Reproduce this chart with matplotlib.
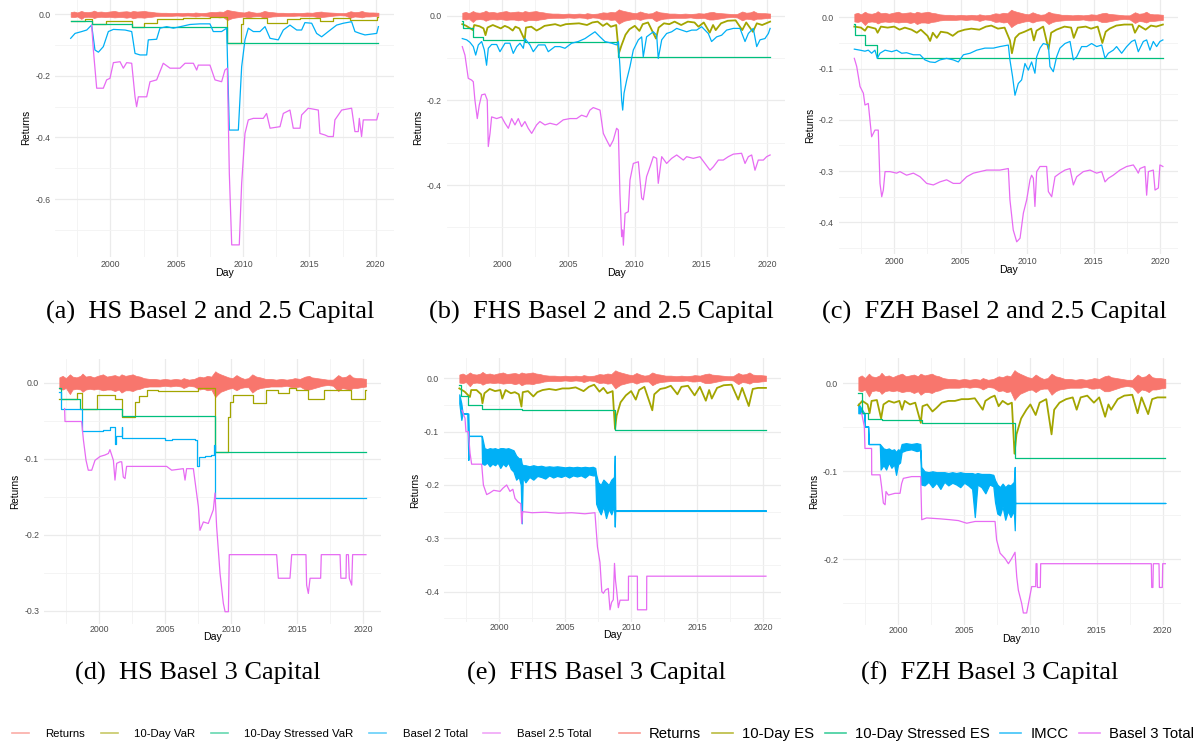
import matplotlib
matplotlib.use('Agg')
import matplotlib.pyplot as plt
from matplotlib.lines import Line2D
from matplotlib import font_manager
import numpy as np

W, H = 1197, 744
RET_C, VAR_C, SVAR_C, B2_C, B25_C = '#F8766D', '#A3A500', '#00BF7D', '#00B0F6', '#E76BF3'

# daily returns, read as an upper/lower envelope of the noisy band
ret_years = [1997.0, 1997.25, 1997.5, 1997.8, 1998.0, 1998.3, 1998.6, 1998.75, 1999.0, 1999.3, 1999.6, 1999.9,
             2000.3, 2000.6, 2000.9, 2001.2, 2001.5, 2001.7, 2002.0, 2002.3, 2002.55, 2002.8, 2003.1, 2003.4,
             2003.8, 2004.2, 2004.6, 2005.0, 2005.4, 2005.8, 2006.2, 2006.4, 2006.8, 2007.2, 2007.6, 2007.9,
             2008.2, 2008.5, 2008.8, 2008.95, 2009.2, 2009.5, 2009.8, 2010.1, 2010.4, 2010.7, 2011.0, 2011.3,
             2011.6, 2011.9, 2012.2, 2012.6, 2013.0, 2013.4, 2013.8, 2014.2, 2014.6, 2014.8, 2015.2, 2015.6,
             2015.9, 2016.1, 2016.5, 2016.9, 2017.3, 2017.7, 2018.1, 2018.4, 2018.7, 2018.95, 2019.2, 2019.5,
             2019.8, 2020.2]
ret_hi = [0.007, 0.009, 0.006, 0.011, 0.008, 0.007, 0.009, 0.012, 0.008, 0.009, 0.007, 0.009, 0.011, 0.008,
          0.009, 0.010, 0.008, 0.011, 0.009, 0.010, 0.011, 0.009, 0.008, 0.006, 0.005, 0.005, 0.004, 0.005,
          0.004, 0.005, 0.004, 0.006, 0.004, 0.005, 0.008, 0.007, 0.009, 0.008, 0.015, 0.013, 0.011, 0.009,
          0.007, 0.006, 0.010, 0.007, 0.005, 0.006, 0.011, 0.008, 0.007, 0.005, 0.005, 0.004, 0.005, 0.004,
          0.005, 0.006, 0.005, 0.008, 0.009, 0.007, 0.006, 0.005, 0.004, 0.004, 0.010, 0.007, 0.008, 0.011,
          0.007, 0.006, 0.006, 0.005]
ret_lo = [-0.008, -0.009, -0.007, -0.015, -0.009, -0.008, -0.009, -0.012, -0.009, -0.008, -0.009, -0.008,
          -0.010, -0.009, -0.009, -0.011, -0.009, -0.013, -0.010, -0.010, -0.011, -0.009, -0.008, -0.006,
          -0.005, -0.005, -0.005, -0.004, -0.005, -0.004, -0.005, -0.007, -0.004, -0.005, -0.009, -0.008,
          -0.010, -0.009, -0.019, -0.016, -0.012, -0.010, -0.008, -0.007, -0.010, -0.007, -0.006, -0.006,
          -0.013, -0.009, -0.007, -0.006, -0.005, -0.005, -0.005, -0.004, -0.006, -0.006, -0.005, -0.009,
          -0.009, -0.008, -0.006, -0.004, -0.003, -0.004, -0.011, -0.007, -0.008, -0.010, -0.007, -0.007,
          -0.006, -0.005]

# (a) HS Basel 2 and 2.5
a_var = [(1997.00, -0.021), (1998.08, -0.015), (1998.58, -0.0325), (1999.66, -0.021), (2001.60, -0.040),
         (2002.53, -0.027), (2003.48, -0.015), (2005.49, -0.011), (2007.50, -0.008), (2008.81, -0.094),
         (2009.81, -0.030), (2010.02, -0.013), (2011.77, -0.027), (2013.28, -0.016), (2014.29, -0.013),
         (2015.79, -0.021), (2016.80, -0.013), (2018.06, -0.020), (2020.07, -0.008), (2020.20, -0.008)]
a_svar = [(1997.00, -0.021), (1998.58, -0.0325), (2001.60, -0.042), (2008.81, -0.094), (2020.20, -0.094)]
a_b2 = [(1997.00, -0.078), (1997.33, -0.062), (1997.83, -0.056), (1998.21, -0.051), (1998.46, -0.040),
        (1998.58, -0.035), (1998.83, -0.116), (1999.09, -0.123), (1999.46, -0.105), (1999.84, -0.056),
        (2000.22, -0.049), (2001.10, -0.051), (2001.60, -0.056), (2001.85, -0.127), (2002.23, -0.132),
        (2002.73, -0.132), (2002.85, -0.083), (2003.48, -0.081), (2003.73, -0.045), (2004.24, -0.040),
        (2004.74, -0.045), (2005.49, -0.038), (2005.99, -0.033), (2006.75, -0.031), (2007.50, -0.031),
        (2007.75, -0.056), (2008.38, -0.056), (2008.76, -0.045), (2008.96, -0.376), (2009.64, -0.376),
        (2009.89, -0.170), (2010.14, -0.083), (2010.39, -0.045), (2010.77, -0.056), (2011.27, -0.056),
        (2011.65, -0.040), (2012.03, -0.078), (2012.65, -0.083), (2013.03, -0.051), (2013.53, -0.035),
        (2014.04, -0.051), (2014.41, -0.051), (2014.66, -0.027), (2015.17, -0.029), (2015.54, -0.062),
        (2015.92, -0.073), (2016.42, -0.056), (2017.05, -0.035), (2017.55, -0.029), (2018.18, -0.024),
        (2018.43, -0.056), (2018.81, -0.062), (2019.19, -0.067), (2020.07, -0.062), (2020.20, -0.040)]
a_b25 = [(1998.58, -0.035), (1998.71, -0.116), (1998.96, -0.240), (1999.46, -0.240), (1999.71, -0.213),
         (1999.96, -0.208), (2000.22, -0.157), (2000.72, -0.154), (2000.97, -0.175), (2001.22, -0.157),
         (2001.60, -0.159), (2001.85, -0.268), (2001.97, -0.300), (2002.10, -0.268), (2002.73, -0.268),
         (2002.98, -0.219), (2003.48, -0.213), (2003.98, -0.159), (2004.49, -0.175), (2005.24, -0.175),
         (2005.62, -0.159), (2006.25, -0.159), (2006.50, -0.181), (2006.62, -0.165), (2007.50, -0.165),
         (2007.88, -0.213), (2008.38, -0.219), (2008.63, -0.181), (2008.81, -0.175), (2008.96, -0.517),
         (2009.14, -0.749), (2009.71, -0.749), (2009.89, -0.549), (2010.14, -0.387), (2010.39, -0.343),
         (2010.77, -0.338), (2011.52, -0.338), (2011.77, -0.322), (2012.03, -0.370), (2012.78, -0.365),
         (2013.03, -0.322), (2013.53, -0.311), (2013.78, -0.370), (2014.29, -0.370), (2014.41, -0.327),
         (2014.91, -0.305), (2015.67, -0.311), (2015.79, -0.387), (2016.17, -0.392), (2016.42, -0.397),
         (2016.80, -0.397), (2016.92, -0.343), (2017.43, -0.311), (2018.18, -0.305), (2018.43, -0.381),
         (2018.68, -0.381), (2018.76, -0.338), (2018.93, -0.397), (2019.06, -0.343), (2020.07, -0.343),
         (2020.20, -0.322)]

# (b) FHS Basel 2 and 2.5
b_var = [(1997.0, -0.020), (1997.3, -0.024), (1997.5, -0.028), (1997.8, -0.034), (1997.9, -0.022),
         (1998.3, -0.025), (1998.6, -0.030), (1998.75, -0.046), (1998.9, -0.028), (1999.3, -0.022),
         (1999.6, -0.026), (1999.9, -0.030), (2000.2, -0.024), (2000.5, -0.028), (2000.8, -0.035),
         (2001.0, -0.026), (2001.3, -0.030), (2001.7, -0.057), (2001.8, -0.028), (2002.2, -0.026),
         (2002.6, -0.035), (2002.9, -0.030), (2003.2, -0.024), (2003.6, -0.022), (2004.0, -0.020),
         (2004.4, -0.024), (2004.8, -0.020), (2005.3, -0.019), (2005.8, -0.018), (2006.4, -0.022),
         (2006.8, -0.016), (2007.2, -0.014), (2007.6, -0.024), (2007.9, -0.018), (2008.2, -0.026),
         (2008.6, -0.022), (2008.8, -0.089), (2009.0, -0.070), (2009.3, -0.045), (2009.6, -0.032),
         (2010.0, -0.024), (2010.35, -0.036), (2010.6, -0.020), (2011.0, -0.016), (2011.6, -0.054),
         (2011.8, -0.028), (2012.2, -0.018), (2012.6, -0.020), (2013.0, -0.014), (2013.5, -0.022),
         (2014.0, -0.014), (2014.5, -0.016), (2014.8, -0.026), (2015.2, -0.016), (2015.65, -0.040),
         (2015.9, -0.022), (2016.1, -0.034), (2016.5, -0.018), (2017.0, -0.012), (2017.6, -0.011),
         (2018.1, -0.034), (2018.4, -0.016), (2018.9, -0.038), (2019.2, -0.018), (2019.6, -0.022),
         (2020.2, -0.014)]
b_svar = [(1997.0, -0.012), (1997.05, -0.030), (1997.83, -0.051), (1998.58, -0.057), (2001.72, -0.063),
          (2008.76, -0.098), (2020.2, -0.098)]
b_b2 = [(1997.0, -0.054), (1997.33, -0.057), (1997.58, -0.063), (1997.83, -0.073), (1998.01, -0.093),
        (1998.21, -0.069), (1998.46, -0.061), (1998.66, -0.081), (1998.83, -0.117), (1998.96, -0.077),
        (1999.21, -0.068), (1999.59, -0.068), (1999.84, -0.085), (2000.22, -0.065), (2000.59, -0.065),
        (2000.84, -0.089), (2001.10, -0.073), (2001.35, -0.065), (2001.60, -0.077), (2001.72, -0.054),
        (2002.10, -0.069), (2002.35, -0.085), (2002.73, -0.069), (2003.23, -0.069), (2003.48, -0.085),
        (2003.98, -0.073), (2004.36, -0.073), (2004.74, -0.077), (2005.24, -0.065), (2005.74, -0.061),
        (2006.25, -0.054), (2006.62, -0.046), (2007.00, -0.038), (2007.38, -0.050), (2007.75, -0.061),
        (2008.26, -0.065), (2008.63, -0.069), (2008.76, -0.061), (2008.88, -0.120), (2009.01, -0.199),
        (2009.09, -0.223), (2009.19, -0.183), (2009.39, -0.152), (2009.64, -0.120), (2009.89, -0.081),
        (2010.27, -0.057), (2010.52, -0.050), (2010.64, -0.097), (2010.89, -0.050), (2011.40, -0.038),
        (2011.65, -0.046), (2011.77, -0.101), (2012.03, -0.057), (2012.40, -0.042), (2012.78, -0.038),
        (2013.16, -0.030), (2013.53, -0.034), (2013.91, -0.038), (2014.29, -0.034), (2014.66, -0.034),
        (2015.04, -0.026), (2015.54, -0.042), (2015.79, -0.061), (2016.17, -0.050), (2016.55, -0.046),
        (2016.92, -0.034), (2017.43, -0.030), (2017.93, -0.030), (2018.31, -0.061), (2018.56, -0.042),
        (2018.93, -0.030), (2019.19, -0.073), (2019.44, -0.057), (2019.81, -0.054), (2020.07, -0.042),
        (2020.20, -0.030)]
b_b25 = [(1997.0, -0.073), (1997.20, -0.093), (1997.45, -0.148), (1997.70, -0.152), (1997.83, -0.156),
         (1997.95, -0.199), (1998.13, -0.243), (1998.28, -0.211), (1998.46, -0.187), (1998.71, -0.185),
         (1998.88, -0.199), (1998.96, -0.309), (1999.09, -0.278), (1999.21, -0.239), (1999.59, -0.243),
         (1999.96, -0.239), (2000.22, -0.254), (2000.47, -0.266), (2000.72, -0.243), (2000.97, -0.258),
         (2001.22, -0.243), (2001.47, -0.262), (2001.72, -0.250), (2001.97, -0.266), (2002.23, -0.278),
         (2002.60, -0.258), (2002.85, -0.250), (2003.23, -0.258), (2003.61, -0.254), (2004.11, -0.258),
         (2004.61, -0.246), (2005.12, -0.243), (2005.62, -0.243), (2005.99, -0.235), (2006.37, -0.239),
         (2006.62, -0.223), (2006.87, -0.217), (2007.38, -0.223), (2007.63, -0.278), (2007.88, -0.294),
         (2008.13, -0.309), (2008.38, -0.294), (2008.63, -0.266), (2008.76, -0.270), (2008.88, -0.420),
         (2009.01, -0.522), (2009.09, -0.506), (2009.14, -0.542), (2009.27, -0.467), (2009.51, -0.463),
         (2009.64, -0.388), (2009.89, -0.349), (2010.27, -0.345), (2010.52, -0.431), (2010.64, -0.435),
         (2010.89, -0.380), (2011.15, -0.357), (2011.40, -0.333), (2011.65, -0.337), (2011.77, -0.396),
         (2012.03, -0.333), (2012.40, -0.349), (2012.78, -0.337), (2013.16, -0.329), (2013.66, -0.341),
         (2013.91, -0.333), (2014.41, -0.337), (2014.91, -0.333), (2015.29, -0.349), (2015.67, -0.365),
         (2015.92, -0.357), (2016.30, -0.341), (2016.67, -0.341), (2017.05, -0.333), (2017.43, -0.327),
         (2018.05, -0.325), (2018.31, -0.349), (2018.56, -0.333), (2018.81, -0.329), (2019.06, -0.365),
         (2019.31, -0.341), (2019.69, -0.341), (2019.94, -0.333), (2020.20, -0.329)]

# (c) FZH Basel 2 and 2.5
c_var = [(1997.0, -0.018), (1997.5, -0.020), (1997.8, -0.026), (1998.0, -0.018), (1998.6, -0.022),
         (1998.75, -0.030), (1999.0, -0.018), (1999.5, -0.020), (2000.0, -0.018), (2000.4, -0.024),
         (2000.8, -0.020), (2001.3, -0.024), (2001.7, -0.030), (2002.0, -0.024), (2002.5, -0.036),
         (2002.7, -0.046), (2002.9, -0.030), (2003.2, -0.040), (2003.5, -0.028), (2004.0, -0.030),
         (2004.4, -0.036), (2004.8, -0.028), (2005.3, -0.024), (2005.8, -0.022), (2006.4, -0.024),
         (2006.9, -0.018), (2007.3, -0.016), (2007.8, -0.022), (2008.3, -0.020), (2008.7, -0.045),
         (2008.85, -0.070), (2009.1, -0.040), (2009.4, -0.032), (2009.8, -0.028), (2010.3, -0.022),
         (2010.5, -0.045), (2010.7, -0.026), (2011.2, -0.018), (2011.6, -0.062), (2011.8, -0.030),
         (2012.2, -0.024), (2012.8, -0.018), (2013.3, -0.020), (2013.5, -0.040), (2013.8, -0.020),
         (2014.4, -0.018), (2014.8, -0.022), (2015.3, -0.018), (2015.65, -0.050), (2015.9, -0.028),
         (2016.2, -0.022), (2016.7, -0.016), (2017.3, -0.014), (2017.9, -0.014), (2018.1, -0.030),
         (2018.4, -0.016), (2018.9, -0.024), (2019.3, -0.016), (2019.7, -0.018), (2020.2, -0.014)]
c_svar = [(1997.0, -0.012), (1997.05, -0.034), (1997.8, -0.053), (1998.68, -0.080), (2020.2, -0.080)]
c_b2 = [(1997.0, -0.062), (1997.43, -0.064), (1997.80, -0.066), (1998.05, -0.064), (1998.30, -0.070),
        (1998.55, -0.064), (1998.73, -0.080), (1998.93, -0.070), (1999.31, -0.064), (1999.81, -0.067),
        (2000.18, -0.064), (2000.56, -0.070), (2000.93, -0.069), (2001.44, -0.073), (2001.94, -0.073),
        (2002.31, -0.083), (2002.69, -0.087), (2003.07, -0.088), (2003.44, -0.083), (2003.94, -0.080),
        (2004.44, -0.083), (2004.82, -0.087), (2005.20, -0.073), (2005.70, -0.070), (2006.20, -0.064),
        (2006.82, -0.060), (2007.45, -0.060), (2007.95, -0.057), (2008.58, -0.054), (2008.70, -0.083),
        (2008.90, -0.116), (2009.08, -0.152), (2009.33, -0.129), (2009.58, -0.122), (2009.83, -0.090),
        (2010.08, -0.103), (2010.33, -0.087), (2010.58, -0.109), (2010.71, -0.077), (2010.96, -0.060),
        (2011.21, -0.051), (2011.59, -0.054), (2011.71, -0.096), (2011.96, -0.106), (2012.21, -0.077),
        (2012.46, -0.060), (2012.84, -0.051), (2013.22, -0.047), (2013.47, -0.083), (2013.72, -0.077),
        (2014.09, -0.057), (2014.47, -0.057), (2014.84, -0.051), (2015.22, -0.057), (2015.60, -0.054),
        (2015.85, -0.080), (2016.10, -0.070), (2016.47, -0.064), (2016.72, -0.057), (2017.10, -0.070),
        (2017.48, -0.057), (2017.85, -0.047), (2018.10, -0.044), (2018.35, -0.067), (2018.73, -0.047),
        (2018.98, -0.044), (2019.23, -0.064), (2019.48, -0.047), (2019.73, -0.057), (2019.98, -0.047),
        (2020.20, -0.044)]
c_b25 = [(1997.0, -0.080), (1997.18, -0.096), (1997.43, -0.135), (1997.68, -0.148), (1997.80, -0.171),
         (1998.05, -0.168), (1998.30, -0.233), (1998.55, -0.220), (1998.80, -0.220), (1998.93, -0.324),
         (1999.06, -0.350), (1999.18, -0.337), (1999.31, -0.301), (1999.68, -0.301), (2000.18, -0.304),
         (2000.43, -0.301), (2000.93, -0.308), (2001.44, -0.304), (2001.94, -0.311), (2002.44, -0.324),
         (2002.94, -0.327), (2003.44, -0.321), (2003.94, -0.317), (2004.44, -0.324), (2004.94, -0.324),
         (2005.45, -0.311), (2005.95, -0.304), (2006.45, -0.301), (2006.95, -0.298), (2007.45, -0.298),
         (2007.95, -0.298), (2008.58, -0.295), (2008.70, -0.356), (2008.95, -0.415), (2009.21, -0.438),
         (2009.46, -0.431), (2009.71, -0.382), (2009.96, -0.356), (2010.21, -0.317), (2010.33, -0.308),
         (2010.46, -0.314), (2010.58, -0.369), (2010.71, -0.301), (2010.96, -0.291), (2011.21, -0.291),
         (2011.46, -0.291), (2011.59, -0.340), (2011.84, -0.350), (2012.09, -0.311), (2012.46, -0.304),
         (2012.84, -0.298), (2013.22, -0.295), (2013.47, -0.327), (2013.72, -0.311), (2014.22, -0.301),
         (2014.72, -0.298), (2015.22, -0.304), (2015.60, -0.301), (2015.85, -0.321), (2016.10, -0.314),
         (2016.47, -0.308), (2016.97, -0.298), (2017.48, -0.291), (2017.98, -0.288), (2018.23, -0.298),
         (2018.35, -0.304), (2018.48, -0.295), (2018.85, -0.291), (2018.98, -0.347), (2019.11, -0.301),
         (2019.48, -0.298), (2019.61, -0.337), (2019.86, -0.333), (2019.98, -0.288), (2020.20, -0.291)]

# (d) HS Basel 3
d_es = [(1997.00, -0.021), (1998.31, -0.014), (1998.69, -0.035), (1999.82, -0.016), (2001.21, -0.021),
        (2001.72, -0.045), (2002.73, -0.025), (2003.00, -0.018), (2003.61, -0.010), (2004.49, -0.011),
        (2006.26, -0.011), (2007.52, -0.007), (2008.78, -0.091), (2009.79, -0.045), (2009.90, -0.025),
        (2010.16, -0.016), (2011.68, -0.027), (2012.66, -0.010), (2013.55, -0.013), (2014.40, -0.007),
        (2014.90, -0.010), (2015.80, -0.021), (2017.00, -0.010), (2019.10, -0.022), (2020.10, -0.010),
        (2020.20, -0.010)]
d_ses = [(1997.00, -0.007), (1997.15, -0.021), (1998.60, -0.035), (2001.72, -0.044), (2008.78, -0.091),
         (2020.20, -0.091)]
d_imcc = [(1997.00, -0.012), (1997.10, -0.034), (1998.69, -0.064), (2000.30, -0.062), (2000.83, -0.058),
          (2001.20, -0.081), (2001.30, -0.070), (2001.72, -0.058), (2001.76, -0.073), (2005.00, -0.075),
          (2005.50, -0.074), (2007.30, -0.075), (2007.45, -0.110), (2007.60, -0.098), (2008.00, -0.097),
          (2008.50, -0.095), (2008.70, -0.082), (2008.78, -0.151), (2020.20, -0.151)]
d_b3 = [(1997.40, -0.034), (1997.43, -0.051), (1998.69, -0.051), (1998.82, -0.075), (1999.02, -0.102),
        (1999.19, -0.115), (1999.45, -0.115), (1999.70, -0.102), (2000.08, -0.097), (2000.46, -0.095),
        (2000.71, -0.093), (2000.83, -0.088), (2001.09, -0.102), (2001.21, -0.128), (2001.34, -0.106),
        (2001.59, -0.104), (2001.72, -0.104), (2001.84, -0.124), (2001.97, -0.126), (2002.09, -0.110),
        (2005.12, -0.110), (2005.50, -0.115), (2006.38, -0.113), (2006.51, -0.128), (2006.63, -0.113),
        (2007.14, -0.113), (2007.52, -0.163), (2007.64, -0.194), (2007.90, -0.183), (2008.27, -0.185),
        (2008.65, -0.167), (2008.78, -0.145), (2008.90, -0.189), (2009.16, -0.251), (2009.41, -0.290),
        (2009.54, -0.301), (2009.79, -0.301), (2009.86, -0.226), (2013.44, -0.226), (2013.57, -0.257),
        (2014.45, -0.257), (2014.58, -0.226), (2015.66, -0.226), (2015.71, -0.266), (2015.84, -0.277),
        (2015.97, -0.257), (2016.77, -0.257), (2016.82, -0.226), (2018.24, -0.226), (2018.30, -0.257),
        (2018.69, -0.257), (2018.72, -0.226), (2018.87, -0.226), (2018.94, -0.257), (2019.12, -0.266),
        (2019.19, -0.226), (2020.20, -0.226)]

# (e) FHS Basel 3
e_es = [(1997.0, -0.019), (1997.4, -0.025), (1997.8, -0.035), (1997.9, -0.022), (1998.3, -0.022),
        (1998.65, -0.030), (1998.75, -0.047), (1998.9, -0.028), (1999.3, -0.020), (1999.7, -0.024),
        (2000.1, -0.022), (2000.25, -0.038), (2000.5, -0.022), (2000.9, -0.028), (2001.2, -0.026),
        (2001.5, -0.030), (2001.7, -0.053), (2001.8, -0.026), (2002.2, -0.024), (2002.6, -0.034),
        (2002.9, -0.026), (2003.3, -0.022), (2003.8, -0.020), (2004.3, -0.022), (2004.8, -0.019),
        (2005.3, -0.019), (2005.8, -0.017), (2006.4, -0.024), (2006.8, -0.016), (2007.2, -0.012),
        (2007.6, -0.025), (2007.9, -0.018), (2008.2, -0.028), (2008.6, -0.024), (2008.78, -0.095),
        (2008.9, -0.070), (2009.2, -0.045), (2009.6, -0.032), (2010.0, -0.024), (2010.35, -0.040),
        (2010.6, -0.022), (2011.0, -0.016), (2011.6, -0.060), (2011.75, -0.030), (2012.2, -0.020),
        (2012.6, -0.018), (2013.0, -0.014), (2013.5, -0.030), (2013.8, -0.016), (2014.3, -0.014),
        (2014.8, -0.032), (2015.2, -0.016), (2015.65, -0.042), (2015.9, -0.022), (2016.1, -0.038),
        (2016.5, -0.018), (2017.0, -0.013), (2017.6, -0.012), (2018.1, -0.040), (2018.4, -0.018),
        (2018.9, -0.052), (2019.2, -0.020), (2019.6, -0.018), (2020.2, -0.018)]
e_ses = [(1997.0, -0.012), (1997.15, -0.034), (1997.68, -0.050), (1998.69, -0.058), (2001.72, -0.059),
         (2008.78, -0.096), (2020.2, -0.096)]
# IMCC is very noisy: (year, upper edge, lower edge)
e_imcc = [(1997.00, -0.030, -0.047), (1997.15, -0.047, -0.078), (1997.25, -0.066, -0.066),
          (1997.60, -0.066, -0.066), (1997.68, -0.066, -0.153), (1997.72, -0.108, -0.108),
          (1998.68, -0.108, -0.108), (1998.72, -0.110, -0.160), (1998.90, -0.131, -0.162),
          (1999.10, -0.133, -0.158), (1999.30, -0.131, -0.165), (1999.50, -0.132, -0.160),
          (1999.70, -0.131, -0.163), (1999.90, -0.133, -0.158), (2000.10, -0.131, -0.168),
          (2000.30, -0.131, -0.160), (2000.50, -0.132, -0.165), (2000.70, -0.131, -0.158),
          (2000.90, -0.133, -0.170), (2001.10, -0.135, -0.175), (2001.30, -0.145, -0.190),
          (2001.50, -0.150, -0.185), (2001.65, -0.150, -0.200), (2001.72, -0.160, -0.272),
          (2001.80, -0.163, -0.185), (2002.00, -0.163, -0.195), (2002.30, -0.165, -0.185),
          (2002.60, -0.163, -0.190), (2002.90, -0.165, -0.183), (2003.20, -0.164, -0.185),
          (2003.50, -0.166, -0.188), (2003.80, -0.165, -0.182), (2004.10, -0.166, -0.186),
          (2004.40, -0.165, -0.183), (2004.70, -0.166, -0.185), (2005.00, -0.167, -0.182),
          (2005.30, -0.166, -0.186), (2005.60, -0.167, -0.182), (2005.90, -0.166, -0.184),
          (2006.20, -0.167, -0.182), (2006.50, -0.166, -0.186), (2006.80, -0.167, -0.180),
          (2007.10, -0.166, -0.182), (2007.28, -0.168, -0.182), (2007.35, -0.180, -0.235),
          (2007.50, -0.195, -0.245), (2007.70, -0.200, -0.255), (2007.90, -0.190, -0.240),
          (2008.10, -0.195, -0.262), (2008.30, -0.200, -0.245), (2008.50, -0.190, -0.255),
          (2008.70, -0.185, -0.240), (2008.76, -0.145, -0.278), (2008.80, -0.248, -0.248),
          (2020.20, -0.248, -0.248)]
e_b3 = [(1997.20, -0.060), (1997.43, -0.075), (1997.50, -0.100), (1997.68, -0.100), (1997.81, -0.140),
        (1997.93, -0.161), (1998.69, -0.161), (1998.82, -0.200), (1999.07, -0.218), (1999.30, -0.215),
        (1999.60, -0.210), (2000.08, -0.212), (2000.30, -0.206), (2000.58, -0.200), (2000.83, -0.212),
        (2001.05, -0.208), (2001.21, -0.225), (2001.45, -0.232), (2001.65, -0.235), (2001.72, -0.272),
        (2001.79, -0.250), (2002.50, -0.252), (2003.50, -0.251), (2004.50, -0.253), (2005.50, -0.252),
        (2006.50, -0.254), (2007.26, -0.252), (2007.45, -0.316), (2007.64, -0.345), (2007.78, -0.400),
        (2007.90, -0.403), (2008.05, -0.397), (2008.27, -0.394), (2008.40, -0.434), (2008.52, -0.420),
        (2008.65, -0.415), (2008.74, -0.347), (2008.82, -0.380), (2008.90, -0.397), (2009.03, -0.430),
        (2009.16, -0.416), (2009.79, -0.416), (2009.80, -0.371), (2010.47, -0.371), (2010.48, -0.434),
        (2011.17, -0.434), (2011.18, -0.371), (2020.20, -0.371)]

# (f) FZH Basel 3
f_es = [(1997.0, -0.025), (1997.3, -0.020), (1997.7, -0.024), (1997.85, -0.034), (1998.0, -0.020),
        (1998.4, -0.019), (1998.72, -0.040), (1998.9, -0.024), (1999.3, -0.020), (1999.7, -0.022),
        (2000.1, -0.020), (2000.3, -0.030), (2000.5, -0.020), (2000.9, -0.024), (2001.3, -0.022),
        (2001.72, -0.045), (2001.85, -0.026), (2002.2, -0.024), (2002.6, -0.032), (2002.9, -0.028),
        (2003.3, -0.022), (2003.8, -0.020), (2004.3, -0.020), (2004.8, -0.018), (2005.3, -0.018),
        (2005.8, -0.017), (2006.4, -0.030), (2006.6, -0.020), (2007.0, -0.016), (2007.3, -0.014),
        (2007.6, -0.026), (2007.9, -0.020), (2008.3, -0.024), (2008.6, -0.022), (2008.8, -0.080),
        (2008.95, -0.058), (2009.3, -0.040), (2009.7, -0.030), (2010.0, -0.024), (2010.4, -0.036),
        (2010.7, -0.022), (2011.2, -0.018), (2011.6, -0.058), (2011.8, -0.030), (2012.2, -0.022),
        (2012.7, -0.018), (2013.2, -0.016), (2013.5, -0.030), (2013.8, -0.016), (2014.3, -0.014),
        (2014.8, -0.022), (2015.2, -0.016), (2015.65, -0.038), (2015.9, -0.024), (2016.1, -0.030),
        (2016.6, -0.018), (2017.1, -0.014), (2017.7, -0.013), (2018.1, -0.034), (2018.4, -0.016),
        (2018.9, -0.035), (2019.2, -0.018), (2019.6, -0.016), (2020.2, -0.016)]
f_ses = [(1997.0, -0.011), (1997.25, -0.034), (1997.76, -0.041), (1998.76, -0.042), (2001.79, -0.045),
         (2008.84, -0.085), (2020.2, -0.085)]
f_imcc = [(1997.00, -0.023, -0.034), (1997.45, -0.034, -0.034), (1997.50, -0.049, -0.049),
          (1997.74, -0.049, -0.049), (1997.78, -0.069, -0.069), (1998.62, -0.069, -0.069),
          (1998.68, -0.070, -0.098), (1998.90, -0.074, -0.093), (1999.10, -0.075, -0.098),
          (1999.30, -0.074, -0.090), (1999.50, -0.076, -0.096), (1999.70, -0.075, -0.092),
          (1999.85, -0.078, -0.104), (2000.00, -0.075, -0.092), (2000.15, -0.076, -0.090),
          (2000.27, -0.069, -0.078), (2000.60, -0.068, -0.076), (2001.00, -0.069, -0.075),
          (2001.40, -0.068, -0.077), (2001.68, -0.069, -0.076), (2001.75, -0.095, -0.115),
          (2002.00, -0.100, -0.116), (2002.30, -0.101, -0.112), (2002.60, -0.100, -0.118),
          (2002.90, -0.101, -0.113), (2003.20, -0.101, -0.120), (2003.50, -0.101, -0.112),
          (2003.80, -0.102, -0.116), (2004.10, -0.101, -0.113), (2004.40, -0.102, -0.115),
          (2004.70, -0.101, -0.118), (2005.00, -0.102, -0.113), (2005.30, -0.102, -0.116),
          (2005.60, -0.102, -0.120), (2005.80, -0.103, -0.152), (2006.00, -0.102, -0.115),
          (2006.30, -0.103, -0.118), (2006.60, -0.103, -0.125), (2006.90, -0.103, -0.115),
          (2007.20, -0.104, -0.117), (2007.33, -0.110, -0.135), (2007.50, -0.115, -0.148),
          (2007.70, -0.118, -0.150), (2007.90, -0.114, -0.140), (2008.10, -0.118, -0.155),
          (2008.30, -0.115, -0.145), (2008.50, -0.116, -0.152), (2008.75, -0.112, -0.145),
          (2008.82, -0.095, -0.167), (2008.86, -0.136, -0.136), (2020.20, -0.136, -0.136)]
f_b3 = [(1997.25, -0.034), (1997.45, -0.049), (1997.50, -0.074), (1998.00, -0.074), (1998.01, -0.104),
        (1998.64, -0.104), (1998.76, -0.118), (1998.89, -0.136), (1999.02, -0.138), (1999.09, -0.123),
        (1999.27, -0.127), (1999.77, -0.125), (2000.15, -0.125), (2000.27, -0.114), (2000.40, -0.108),
        (2001.03, -0.106), (2001.71, -0.106), (2001.79, -0.155), (2002.16, -0.153), (2003.17, -0.154),
        (2003.93, -0.155), (2004.56, -0.156), (2005.19, -0.159), (2005.82, -0.157), (2006.70, -0.157),
        (2007.33, -0.157), (2007.45, -0.178), (2007.71, -0.193), (2008.08, -0.199), (2008.34, -0.205),
        (2008.59, -0.199), (2008.84, -0.192), (2008.97, -0.220), (2009.09, -0.235), (2009.34, -0.250),
        (2009.47, -0.261), (2009.72, -0.261), (2009.92, -0.245), (2010.10, -0.231), (2010.40, -0.231),
        (2010.43, -0.205), (2010.50, -0.205), (2010.53, -0.232), (2010.75, -0.232), (2010.78, -0.205),
        (2019.14, -0.205), (2019.17, -0.232), (2019.26, -0.232), (2019.29, -0.205), (2019.72, -0.205),
        (2019.75, -0.232), (2019.97, -0.232), (2020.00, -0.205), (2020.20, -0.205)]

year_ticks = [2000, 2005, 2010, 2015, 2020]
legend_b2 = ['Returns', '10-Day VaR', '10-Day Stressed VaR', 'Basel 2 Total', 'Basel 2.5 Total']
legend_b3 = ['Returns', '10-Day ES', '10-Day Stressed ES', 'IMCC', 'Basel 3 Total']
captions = ['(a)  HS Basel 2 and 2.5 Capital', '(b)  FHS Basel 2 and 2.5 Capital',
            '(c)  FZH Basel 2 and 2.5 Capital', '(d)  HS Basel 3 Capital',
            '(e)  FHS Basel 3 Capital', '(f)  FZH Basel 3 Capital']

plt.rcParams['font.family'] = ['Liberation Sans', 'DejaVu Sans']
fig = plt.figure(figsize=(W / 100, H / 100), dpi=100)


def xy(pairs):
    return [p[0] for p in pairs], [p[1] for p in pairs]


def make_axes(left, right, top, bottom, ylim, step, top_row):
    ax = fig.add_axes([left / W, 1 - bottom / H, (right - left) / W, (bottom - top) / H])
    ax.set_xlim(1995.84, 2021.36)
    ax.set_ylim(*ylim)
    ax.set_xticks(year_ticks)
    ax.set_xticks(np.arange(1997.5, 2020, 5), minor=True)
    major = np.arange(0, ylim[0], -step)
    ax.set_yticks(major)
    ax.set_yticks(np.arange(-step / 2, ylim[0], -step), minor=True)
    ax.set_yticklabels(['%.1f' % v if abs(v) > 1e-9 else '0.0' for v in major])
    ax.grid(which='major', color='#EBEBEB', lw=0.9)
    ax.grid(which='minor', color='#F3F3F3', lw=0.6)
    ax.set_axisbelow(True)
    for s in ax.spines.values():
        s.set_visible(False)
    ax.tick_params(which='both', length=0, labelsize=6.3, labelcolor='#4D4D4D')
    ax.tick_params(axis='x', pad=2.2 if top_row else 0.8)
    ax.tick_params(axis='y', pad=3.5)
    w = right - left
    h = bottom - top
    ax.set_ylabel('Returns', fontsize=7.2)
    ax.yaxis.set_label_coords(-24 / w, 0.5)
    ax.set_xlabel('Day', fontsize=7.6)
    ax.xaxis.set_label_coords(0.5, -(11 if top_row else 8.5) / h)
    ax.fill_between(ret_years, ret_lo, ret_hi, color=RET_C, lw=0.5, edgecolor=RET_C)
    return ax


def line(ax, pairs, color, steps=False, lw=0.9):
    x, y = xy(pairs)
    ax.plot(x, y, color=color, lw=lw, drawstyle='steps-post' if steps else 'default')


def band(ax, triples, color):
    x = [t[0] for t in triples]
    hi = [t[1] for t in triples]
    lo = [t[2] for t in triples]
    ax.fill_between(x, lo, hi, color=color, edgecolor=color, lw=0.9)


ax = make_axes(55.3, 393.8, -2.0, 257.2, (-0.789, 0.053), 0.2, True)
line(ax, a_var, VAR_C, True)
line(ax, a_svar, SVAR_C, True)
line(ax, a_b2, B2_C)
line(ax, a_b25, B25_C)

ax = make_axes(446.9, 785.5, -2.5, 257.0, (-0.570, 0.043), 0.2, True)
line(ax, b_var, VAR_C, lw=1.3)
line(ax, b_svar, SVAR_C, True)
line(ax, b_b2, B2_C)
line(ax, b_b25, B25_C)

ax = make_axes(838.9, 1178.3, -2.1, 253.6, (-0.461, 0.038), 0.1, True)
line(ax, c_var, VAR_C, lw=1.3)
line(ax, c_svar, SVAR_C, True)
line(ax, c_b2, B2_C)
line(ax, c_b25, B25_C)

ax = make_axes(44.0, 381.3, 359.1, 623.9, (-0.317, 0.031), 0.1, False)
line(ax, d_es, VAR_C, True)
line(ax, d_ses, SVAR_C, True)
line(ax, d_imcc, B2_C, True)
line(ax, d_b3, B25_C)

ax = make_axes(444.0, 781.3, 358.3, 621.8, (-0.4565, 0.0375), 0.1, False)
line(ax, e_es, VAR_C, lw=1.3)
line(ax, e_ses, SVAR_C, True)
band(ax, e_imcc, B2_C)
line(ax, e_b3, B25_C)

ax = make_axes(843.0, 1180.7, 357.8, 625.3, (-0.275, 0.029), 0.1, False)
line(ax, f_es, VAR_C, lw=1.3)
line(ax, f_ses, SVAR_C, True)
band(ax, f_imcc, B2_C)
line(ax, f_b3, B25_C)

# sub-figure captions
cap_pos = [(210, 312), (601, 312), (994, 312), (198, 673), (596, 673), (990, 673)]
for text, (cx, cy) in zip(captions, cap_pos):
    fig.text(cx / W, 1 - cy / H, text, ha='center', va='center', fontsize=19,
             family=['Liberation Serif', 'DejaVu Serif'])

colors = [RET_C, VAR_C, SVAR_C, B2_C, B25_C]

# left legend uses a narrow face in the original
try:
    font_manager.findfont('Liberation Sans Narrow', fallback_to_default=False)
    narrow = True
except Exception:
    narrow = False
if narrow:
    lprops = dict(family='Liberation Sans Narrow', size=10.5)
    lkw = dict(handlelength=1.1, handletextpad=1.1, columnspacing=1.0)
else:
    lprops = dict(family='Liberation Sans', size=8.2)
    lkw = dict(handlelength=1.5, handletextpad=1.45, columnspacing=1.35)

h1 = [Line2D([], [], color=c, lw=1.2, alpha=0.6) for c in colors]
fig.legend(h1, legend_b2, loc='center', bbox_to_anchor=(301.5 / W, 1 - 734 / H), ncol=5,
           frameon=False, prop=lprops, borderaxespad=0, **lkw)
h2 = [Line2D([], [], color=c, lw=1.2, alpha=0.75) for c in colors]
fig.legend(h2, legend_b3, loc='center', bbox_to_anchor=(906.5 / W, 1 - 734 / H), ncol=5,
           frameon=False, prop=dict(family='Liberation Sans', size=10.7), borderaxespad=0,
           handlelength=1.41, handletextpad=0.6, columnspacing=0.74)

fig.savefig('out.png', dpi=100)
